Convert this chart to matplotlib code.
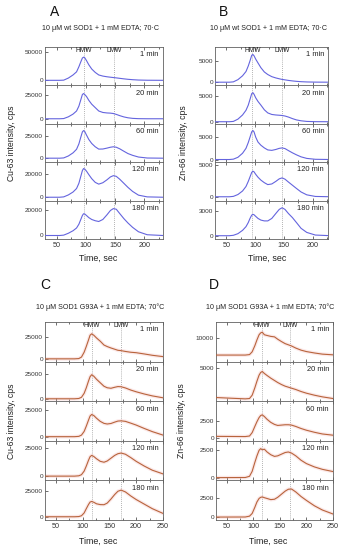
import matplotlib
matplotlib.use("Agg")
import matplotlib.pyplot as plt
from matplotlib.ticker import MultipleLocator

plt.rcParams['font.family'] = ['Liberation Sans', 'DejaVu Sans']

# ---------------- DATA ----------------
time_labels = ["1 min", "20 min", "60 min", "120 min", "180 min"]

# Panel A / B time grid (sec)
t_wt = [30, 55, 62, 70, 78, 84, 88, 91, 94, 96, 98, 101, 105, 110, 116, 122,
        129, 136, 142, 147, 152, 158, 165, 172, 180, 190, 205, 232]

A_1 = [0, 0, 300, 4000, 9500, 15000, 24000, 32000, 39500, 41000, 40000, 35000, 27500, 20000,
       14000, 9500, 7500, 6300, 5500, 4900, 4300, 3500, 2600, 1800, 1100, 500, 150, 0]
A_20 = [0, 0, 200, 2000, 4800, 8000, 13000, 19000, 25000, 26000, 25000, 23000, 19000, 15000,
        11500, 8000, 6500, 6000, 5800, 5400, 4500, 3200, 1900, 1000, 400, 100, 0, 0]
A_60 = [0, 0, 300, 2500, 6000, 10000, 16000, 23000, 29500, 31000, 30000, 26000, 21000, 16500,
        12800, 10200, 10300, 11300, 12300, 12800, 12300, 10500, 7800, 5200, 3200, 1300, 200, 0]
A_120 = [0, 0, 300, 2000, 4500, 7500, 12000, 17500, 23000, 24700, 24300, 22500, 19500, 16000,
         12800, 11300, 12500, 15000, 17500, 18600, 18000, 15500, 12000, 8500, 5000, 1800, 300, 0]
A_180 = [0, 0, 300, 1800, 3800, 6000, 9000, 12500, 16000, 17400, 17200, 16000, 14300, 12800,
         11800, 11200, 12800, 16500, 20000, 21500, 21000, 17500, 13500, 10000, 6500, 3000, 600, 0]

B_1 = [0, 0, 80, 600, 1500, 2500, 3800, 5000, 6300, 6500, 6200, 5400, 4500, 3400,
       2400, 1800, 1300, 1000, 800, 650, 550, 420, 300, 200, 120, 60, 20, 0]
B_20 = [0, 0, 60, 500, 1300, 2200, 3200, 4300, 5400, 5600, 5300, 4600, 3900, 3200,
        2300, 1700, 1400, 1300, 1250, 1200, 1100, 900, 600, 350, 180, 60, 10, 0]
B_60 = [0, 0, 80, 500, 1400, 2500, 3800, 5000, 6200, 6500, 6200, 5000, 3900, 3200,
        2600, 2150, 2050, 2250, 2500, 2600, 2450, 2000, 1500, 1050, 600, 250, 50, 0]
B_120 = [0, 0, 60, 350, 900, 1600, 2400, 3100, 3800, 4000, 3900, 3500, 3050, 2600,
         2200, 1900, 2000, 2400, 2800, 2950, 2750, 2300, 1800, 1300, 750, 300, 50, 0]
B_180 = [0, 0, 50, 250, 650, 1100, 1600, 2100, 2500, 2600, 2550, 2350, 2100, 1900,
         1800, 1800, 2100, 2700, 3200, 3400, 3200, 2700, 2200, 1600, 900, 400, 80, 0]

# Panel C / D time grid (sec)
t_mut = [30, 85, 93, 98, 103, 107, 111, 114, 117, 121, 126, 133, 140, 146, 153, 160,
         166, 172, 180, 190, 200, 215, 230, 250]

C_1 = [0, 0, 300, 2000, 7500, 14000, 21000, 26500, 28100, 26500, 23500, 19800, 15500, 13800,
       12200, 10800, 9600, 9200, 8300, 7400, 6900, 5500, 4000, 2500]
C_20 = [0, 0, 300, 1500, 5500, 11000, 17500, 22000, 24000, 22500, 19500, 16000, 12500, 11000,
        10500, 11500, 12200, 12000, 10800, 8700, 7000, 4800, 2900, 1000]
C_60 = [0, 0, 300, 1500, 5000, 10000, 15500, 19500, 21000, 20000, 17500, 14500, 12600, 12000,
        12500, 13800, 14800, 15000, 14500, 12800, 11000, 7800, 4800, 1500]
C_120 = [0, 0, 300, 1300, 4500, 9000, 14000, 17300, 18500, 17500, 15500, 13200, 12400, 13500,
         16000, 18500, 20000, 20600, 19500, 16500, 13200, 9000, 5300, 2000]
C_180 = [0, 0, 200, 1000, 3800, 8000, 12000, 14500, 15100, 14300, 12800, 12000, 11900, 13500,
         17500, 22000, 25200, 26300, 24500, 20500, 17000, 12500, 8000, 3300]

D_1 = [2800, 2800, 3000, 4200, 6800, 9300, 11500, 12300, 12600, 11500, 11200, 10800, 10600, 9600,
       8600, 7700, 7200, 6700, 5800, 4900, 4300, 3700, 3200, 2900]
D_20 = [550, 350, 400, 900, 2000, 3000, 3900, 4300, 4450, 4150, 3850, 3450, 3100, 2800,
        2500, 2250, 2100, 1950, 1750, 1450, 1200, 900, 650, 400]
D_60 = [250, 220, 300, 800, 1700, 2400, 3000, 3300, 3400, 3150, 2750, 2300, 2000, 1850,
        1900, 1950, 1950, 1900, 1700, 1400, 1150, 850, 600, 420]
D_120 = [30, 40, 150, 600, 1400, 2000, 2500, 2650, 2550, 2600, 2350, 2100, 1950, 2000,
         2150, 2300, 2350, 2250, 2000, 1600, 1300, 1000, 780, 580]
D_180 = [30, 40, 150, 500, 1300, 2000, 2450, 2600, 2650, 2550, 2450, 2300, 2350, 2600,
         3000, 3400, 3650, 3680, 3300, 2700, 2200, 1500, 950, 430]

# ---------------- LAYOUT ----------------
W, H = 345, 550
fig = plt.figure(figsize=(W / 100, H / 100), dpi=100)

BLUE = '#6464de'
BROWN = '#b8643c'

panels = [
    dict(letter='A', title='10 \u03bcM wt SOD1 + 1 mM EDTA; 70\u00b7C', ylabel='Cu-63 intensity, cps',
         box=(45, 163, 47, 239), t=t_wt, series=[A_1, A_20, A_60, A_120, A_180], xlim=(30, 232),
         ylims=[(-9000, 59000), (-5200, 34400), (-4500, 38600), (-2900, 30200), (-2800, 27900)],
         yticks=[[0, 50000], [0, 25000], [0, 25000], [0, 20000], [0, 20000]],
         lines=(96, 148), color=BLUE, xticks=[50, 100, 150, 200], halo=False,
         letter_xy=(55, 12), title_xy=(101, 29), xlabel_xy=(98, 258), ylabel_xy=(12, 143)),
    dict(letter='B', title='10 \u03bcM wt SOD1 + 1 mM EDTA; 70\u00b7C', ylabel='Zn-66 intensity, cps',
         box=(215, 328, 47, 239), t=t_wt, series=[B_1, B_20, B_60, B_120, B_180], xlim=(30, 227),
         ylims=[(-750, 8250), (-400, 7000), (-600, 8000), (-600, 5400), (-400, 4270)],
         yticks=[[0, 5000], [0, 5000], [0, 5000], [0, 5000], [0, 3000]],
         lines=(95, 147), color=BLUE, xticks=[50, 100, 150, 200], halo=False,
         letter_xy=(223, 12), title_xy=(269, 29), xlabel_xy=(267, 258), ylabel_xy=(184, 143)),
    dict(letter='C', title='10 \u03bcM SOD1 G93A + 1 mM EDTA; 70\u00b0C', ylabel='Cu-63 intensity, cps',
         box=(45, 163, 322, 520), t=t_mut, series=[C_1, C_20, C_60, C_120, C_180], xlim=(30, 250),
         ylims=[(-3100, 41400), (-2400, 37100), (-3900, 33600), (-3800, 31500), (-3200, 35900)],
         yticks=[[0, 25000]] * 5,
         lines=(117, 172), color=BROWN, xticks=[50, 100, 150, 200, 250], halo=True,
         letter_xy=(45, 285), title_xy=(100, 307), xlabel_xy=(98, 541), ylabel_xy=(12, 421)),
    dict(letter='D', title='10 \u03bcM SOD1 G93A + 1 mM EDTA; 70\u00b0C', ylabel='Zn-66 intensity, cps',
         box=(216, 333, 322, 520), t=t_mut, series=[D_1, D_20, D_60, D_120, D_180], xlim=(30, 250),
         ylims=[(0, 16970), (0, 5930), (-400, 5400), (-220, 3360), (-350, 4800)],
         yticks=[[10000], [5000], [0, 2500], [0, 2500], [0, 2500]],
         lines=(116, 170), color=BROWN, xticks=[50, 100, 150, 200, 250], halo=True,
         letter_xy=(214, 285), title_xy=(270, 307), xlabel_xy=(268, 541), ylabel_xy=(182, 421)),
]

SPINE = '#606060'
for p in panels:
    left, right, top, bottom = p['box']
    h = (bottom - top) / 5.0
    for i in range(5):
        ytop = top + i * h
        ax = fig.add_axes([left / W, 1 - (ytop + h) / H, (right - left) / W, h / H])
        if p['halo']:
            ax.plot(p['t'], p['series'][i], color='#f4b6b6', lw=2.6, alpha=0.3, zorder=2)
        ax.plot(p['t'], p['series'][i], color=p['color'], lw=0.8, zorder=3)
        ax.set_xlim(*p['xlim'])
        ax.set_ylim(*p['ylims'][i])
        ax.set_yticks(p['yticks'][i])
        ax.set_yticklabels([str(v) for v in p['yticks'][i]])
        ax.set_xticks(p['xticks'])
        ax.xaxis.set_minor_locator(MultipleLocator(25))
        for xv in p['lines']:
            ax.axvline(xv, color='#9a9a9a', lw=0.6, ls=(0, (1, 1.5)), zorder=1)
        ax.tick_params(axis='both', which='both', direction='in', length=2, width=0.5,
                       labelsize=4.6, colors='#333333', pad=1.5, top=True)
        ax.tick_params(axis='x', which='minor', length=1.2)
        if i < 4:
            ax.tick_params(axis='x', labelbottom=False)
        else:
            ax.tick_params(axis='x', labelsize=5.2, pad=2.5)
        for s in ax.spines.values():
            s.set_color(SPINE)
            s.set_linewidth(0.6)
        ax.text(0.965, 0.80, time_labels[i], transform=ax.transAxes, ha='right', va='center',
                fontsize=5.4, color='#222222')
        if i == 0:
            ax.text(p['lines'][0], p['ylims'][0][1], 'HMW', ha='center', va='top',
                    fontsize=4.8, color='#222222')
            ax.text(p['lines'][1], p['ylims'][0][1], 'LMW', ha='center', va='top',
                    fontsize=4.8, color='#222222')
    lx, ly = p['letter_xy']
    fig.text(lx / W, 1 - ly / H, p['letter'], ha='center', va='center', fontsize=10, color='#111111')
    tx, ty = p['title_xy']
    fig.text(tx / W, 1 - ty / H, p['title'], ha='center', va='center', fontsize=5.1, color='#222222')
    xx, xy = p['xlabel_xy']
    fig.text(xx / W, 1 - xy / H, 'Time, sec', ha='center', va='center', fontsize=6.4, color='#222222')
    yx, yy = p['ylabel_xy']
    fig.text(yx / W, 1 - yy / H, p['ylabel'], ha='center', va='center', rotation=90,
             fontsize=6.2, color='#222222')

fig.savefig('out.png', dpi=100)
